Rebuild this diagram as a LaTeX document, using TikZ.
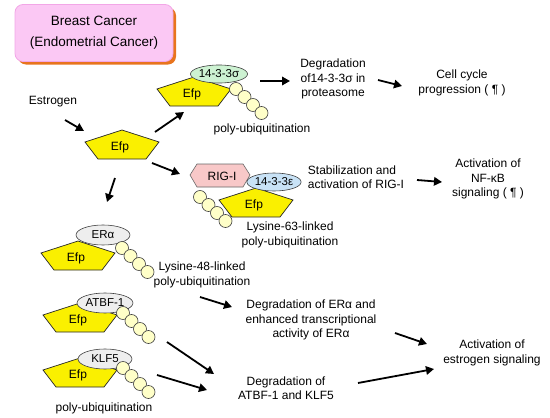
\documentclass[tikz,border=0pt]{standalone}
\usepackage{fontspec}
\setmainfont{Liberation Sans}
\usetikzlibrary{arrows.meta,shapes,shadows}

\definecolor{efpyellow}{HTML}{FAF000}
\definecolor{beadfill}{HTML}{FFFFC8}
\definecolor{boxpink}{HTML}{FBC8F4}
\definecolor{boxline}{HTML}{F2A6E6}
\definecolor{shadoworange}{HTML}{E8741E}
\definecolor{sigmagreen}{HTML}{CDF2D2}
\definecolor{epsblue}{HTML}{C8E2F6}
\definecolor{rigpink}{HTML}{F8C8C8}
\definecolor{partgray}{HTML}{EEEEEE}

\newcommand{\efp}[3]{%
\filldraw[efpfill,shift={(#2,#3)}](0,-16)--(37,-4)--(24,13)--(-24,13)--(-37,-4)--cycle;
\node[small](#1)at(#2-2,#3+1){Efp};}
\newcommand{\ubq}[2]{%
\foreach \k in {0,...,3}
\filldraw[bead](#1+8.5*\k,#2+8*\k)circle[radius=6.5pt];}

\begin{document}
\begin{tikzpicture}[x=1pt,y=-1pt,
txt/.style={font=\fontsize{12}{14.5}\selectfont,align=center},
small/.style={font=\fontsize{12}{13}\selectfont,inner sep=0pt},
efpfill/.style={fill=efpyellow,draw=black!85,line width=0.7pt},
bead/.style={fill=beadfill,draw=black!75,line width=0.6pt},
part/.style={ellipse,draw=black!75,line width=0.6pt,inner sep=0pt,font=\fontsize{11.5}{13}\selectfont},
titlebox/.style={rounded corners=8pt,fill=boxpink,draw=boxline,line width=0.8pt,
minimum width=158pt,minimum height=57pt,align=center,font=\fontsize{13.5}{21}\selectfont,
drop shadow={shadow xshift=3pt,shadow yshift=-3pt,fill=shadoworange,opacity=1}},
arr/.style={-{Triangle[length=8pt,width=8.5pt]},line width=1.8pt}]
\useasboundingbox (0,0) rectangle (550,418);

\node[titlebox](cancer)at(94,33){Breast Cancer\\(Endometrial Cancer)};
\node[txt](estr)at(53,102){Estrogen};

% Efp alone
\efp{efp0}{122}{146}

% Efp with 14-3-3 sigma
\efp{efp1}{194}{93}
\node[part,fill=sigmagreen,minimum width=54pt,minimum height=18pt](sig)at(219,74){14-3-3σ};
\ubq{236}{89}
\node[txt](polyA)at(262,129){poly-ubiquitination};
\node[txt](degsig)at(333,79){Degradation\\of14-3-3σ in\\proteasome};
\node[txt](cell)at(462,83){Cell cycle\\progression ( ¶ )};

% RIG-I complex
\filldraw[fill=rigpink,draw=black!60,line width=0.6pt](190,175)--(197,164)--(243,164)--(250,175)--(243,187)--(197,187)--cycle;
\node[small](rig)at(222,176){RIG-I};
\ubq{200}{197}
\efp{efp2}{256}{204}
\node[part,fill=epsblue,minimum width=52pt,minimum height=18pt](eps)at(274,182){14-3-3ε};
\node[txt](lys63)at(290,235){Lysine-63-linked\\poly-ubiquitination};
\node[txt,align=left](stab)at(356,177){Stabilization and\\activation of RIG-I};
\node[txt](nfkb)at(488,179){Activation of\\NF-κB\\signaling ( ¶ )};

% ER alpha
\efp{efp3}{78}{257}
\node[part,fill=partgray,minimum width=54pt,minimum height=20pt](era)at(103,235){ERα};
\ubq{122}{248}
\node[txt](lys48)at(202,275){Lysine-48-linked\\poly-ubiquitination};
\node[txt](deger)at(311,320){Degradation of ERα and\\enhanced transcriptional\\activity of ERα};

% ATBF-1
\efp{efp4}{80}{319}
\node[part,fill=partgray,minimum width=56pt,minimum height=20pt](atbf)at(105,303){ATBF-1};
\ubq{123}{313}

% KLF5
\efp{efp5}{80}{374}
\node[part,fill=partgray,minimum width=54pt,minimum height=20pt](klf)at(105,359){KLF5};
\ubq{123}{368}
\node[txt](polyB)at(104,408){poly-ubiquitination};
\node[txt](degak)at(286,388){Degradation of\\ATBF-1 and KLF5};
\node[txt](acte)at(492,353){Activation of\\estrogen signaling};

% arrow ends
\coordinate(s1)at(65,120); \coordinate(t1)at(84,131);
\coordinate(s2)at(155,132); \coordinate(t2)at(184,112);
\coordinate(s3)at(260,81); \coordinate(t3)at(290,81);
\coordinate(s4)at(378,80); \coordinate(t4)at(402,86);
\coordinate(s5)at(152,163); \coordinate(t5)at(180,174);
\coordinate(s6)at(115,178); \coordinate(t6)at(107,202);
\coordinate(s7)at(417,180); \coordinate(t7)at(442,182);
\coordinate(s8)at(200,297); \coordinate(t8)at(232,307);
\coordinate(s9)at(395,333); \coordinate(t9)at(427,344);
\coordinate(s10)at(167,342); \coordinate(t10)at(214,374);
\coordinate(s11)at(157,375); \coordinate(t11)at(207,390);
\coordinate(s12)at(358,383); \coordinate(t12)at(434,369);

\draw[arr](s1)--(t1);
\draw[arr](s2)--(t2);
\draw[arr](s3)--(t3);
\draw[arr](s4)--(t4);
\draw[arr](s5)--(t5);
\draw[arr](s6)--(t6);
\draw[arr](s7)--(t7);
\draw[arr](s8)--(t8);
\draw[arr](s9)--(t9);
\draw[arr](s10)--(t10);
\draw[arr](s11)--(t11);
\draw[arr](s12)--(t12);
\end{tikzpicture}
\end{document}
